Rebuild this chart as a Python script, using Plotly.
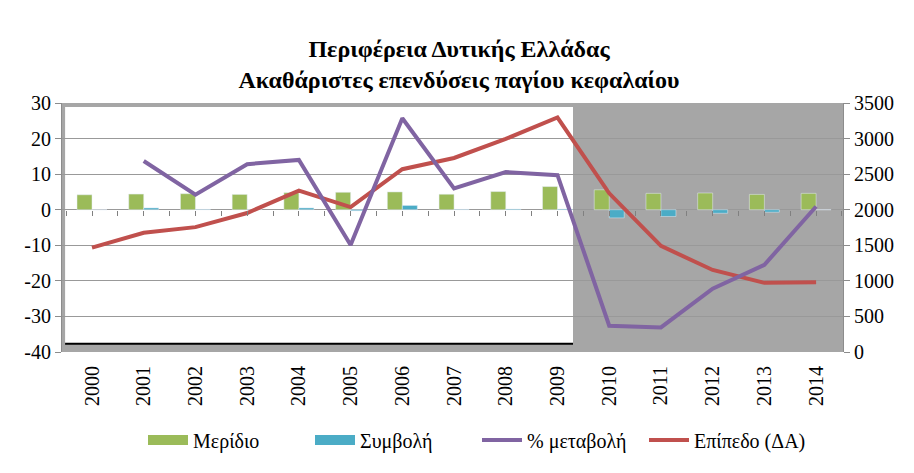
import plotly.graph_objects as go

# data
years = list(range(2000, 2015))
meridio = [4.2, 4.4, 4.5, 4.3, 4.8, 4.9, 5.0, 4.35, 5.1, 6.5, 5.6, 4.6, 4.7, 4.3, 4.6]
symvoli = [0.0, 0.5, 0.1, 0.05, 0.5, -0.3, 1.2, 0.1, 0.2, 0.2, -2.3, -1.9, -1.0, -0.7, 0.0]
metavoli = [None, 13.7, 4.2, 12.8, 14.0, -9.9, 25.7, 6.0, 10.6, 9.7, -32.6, -33.1, -22.2, -15.5, 0.9]
epipedo = [1468, 1676, 1755, 1954, 2269, 2037, 2569, 2727, 2995, 3296, 2231, 1491, 1153, 972, 981]

left_ticks = list(range(-40, 31, 10))
right_ticks = list(range(0, 3501, 500))

serif = "Times New Roman, Liberation Serif, serif"
xr = [1999.42, 2014.52]
green = "#9bbb59"
cyan = "#4bacc6"

# the page body adds an 8px offset, so the figure is 8px smaller than the window
W, H = 906, 465

fig = go.Figure()
fig.add_trace(go.Bar(x=years, y=meridio, name="Μερίδιο", marker_color=green, showlegend=False))
fig.add_trace(go.Bar(x=years, y=symvoli, name="Συμβολή", marker_color=cyan, showlegend=False))
# wide legend swatches for the bars, like the original
fig.add_trace(go.Scatter(x=[None], y=[None], name="Μερίδιο", mode="lines",
                         line=dict(color=green, width=13)))
fig.add_trace(go.Scatter(x=[None], y=[None], name="Συμβολή", mode="lines",
                         line=dict(color=cyan, width=13)))
# this line sits on xaxis2 (same range) so the small ticks along zero get drawn
fig.add_trace(go.Scatter(x=years, y=metavoli, name="% μεταβολή", mode="lines",
                         line=dict(color="#8064a2", width=4), xaxis="x2"))
fig.add_trace(go.Scatter(x=years, y=epipedo, name="Επίπεδο (ΔΑ)", mode="lines",
                         line=dict(color="#c0504d", width=4), yaxis="y2"))

# gray plot background with white panel for 2000-2009
fig.add_shape(type="rect", xref="paper", yref="paper", x0=0, x1=1, y0=0, y1=1,
              fillcolor="#a6a6a6", line_width=0, layer="below")
fig.add_shape(type="rect", xref="x", yref="y", x0=1999.48, x1=2009.3, y0=-37.6, y1=28.9,
              fillcolor="white", line_width=0, layer="below")
fig.add_shape(type="line", xref="x", yref="y", x0=1999.48, x1=2009.3, y0=-37.7, y1=-37.7,
              line=dict(color="black", width=2), layer="below")
# outer frame, right edge
fig.add_shape(type="line", xref="paper", yref="paper", x0=1.087, x1=1.087, y0=-0.7, y1=1.5,
              line=dict(color="#555555", width=1.5))

fig.update_layout(
    width=W, height=H,
    margin=dict(l=54, r=71, t=95, b=121),
    paper_bgcolor="white", plot_bgcolor="#a6a6a6",
    barmode="group", bargap=0.42, bargroupgap=0,
    font=dict(family=serif, size=20, color="black"),
    title=dict(text="<b>Περιφέρεια Δυτικής Ελλάδας<br>Ακαθάριστες επενδύσεις παγίου κεφαλαίου</b>",
               x=(459 - 8) / W, xanchor="center", y=1 - 49 / H, yanchor="middle", yref="container",
               font=dict(family=serif, size=24)),
    xaxis=dict(range=xr, tickmode="array", tickvals=years, ticktext=[str(y) for y in years],
               tickangle=-90, showgrid=False, ticks="", zeroline=False, ticklabelstandoff=9,
               tickfont=dict(family=serif, size=20)),
    xaxis2=dict(range=xr, overlaying="x", anchor="free", position=40 / 70, side="bottom",
                tickmode="array", tickvals=[1999.5 + 0.5 * i for i in range(31)],
                ticks="outside", ticklen=5, tickwidth=1, tickcolor="#808080",
                showticklabels=False, showgrid=False, zeroline=False, showline=False),
    yaxis=dict(range=[-40, 30], tickmode="array", tickvals=left_ticks,
               ticktext=[str(v) for v in left_ticks], showgrid=True, gridcolor="#999999",
               zeroline=False, showline=True, linecolor="#8c8c8c", ticks="outside",
               ticklen=6, tickcolor="#8c8c8c", tickfont=dict(family=serif, size=20)),
    yaxis2=dict(range=[0, 3500], tickvals=right_ticks, overlaying="y", side="right",
                showgrid=False, zeroline=False, showline=True, linecolor="#8c8c8c",
                ticks="outside", ticklen=6, tickcolor="#8c8c8c",
                tickfont=dict(family=serif, size=20)),
    legend=dict(orientation="h", x=(477 - 62) / 781, xanchor="center", y=-(440 - 352) / 249,
                yanchor="middle", itemwidth=40, entrywidth=112, entrywidthmode="pixels",
                font=dict(family=serif, size=20), bgcolor="rgba(0,0,0,0)"),
    showlegend=True,
)

fig.write_html("out.html")
